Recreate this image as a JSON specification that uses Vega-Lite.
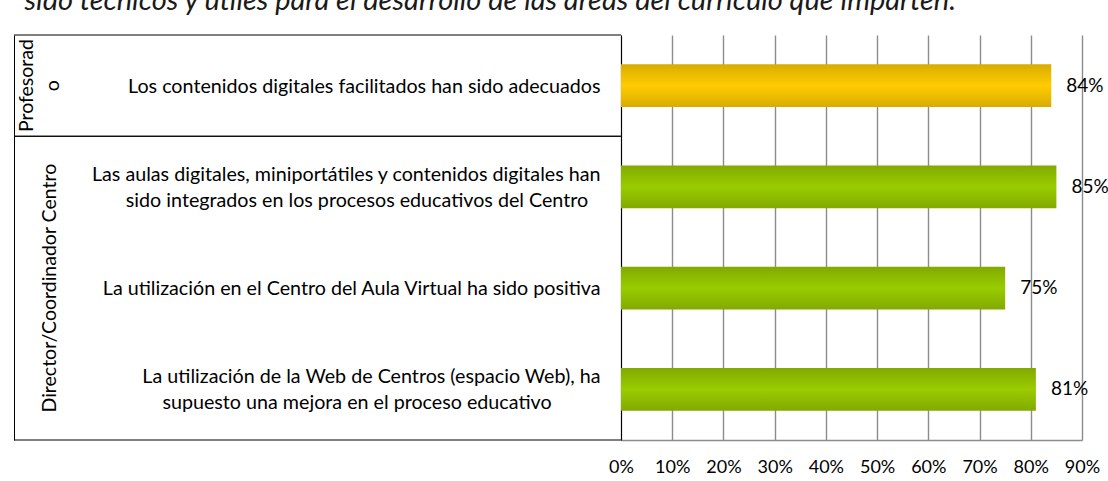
{
  "$schema": "https://vega.github.io/schema/vega-lite/v6.json",
  "padding": {"left": 13, "top": -14, "right": 5, "bottom": 4},
  "background": "white",
  "title": {
    "text": "sido técnicos y útiles para el desarrollo de las áreas del currículo que imparten.",
    "anchor": "start",
    "fontStyle": "italic",
    "fontWeight": "normal",
    "fontSize": 29,
    "color": "#1a1a1a",
    "offset": -4,
    "dx": 11,
    "baseline": "alphabetic",
    "font": "Lato"
  },
  "config": {
    "font": "Lato",
    "view": {"stroke": null},
    "concat": {"spacing": 0}
  },
  "datasets": {
    "rows": [
      {"group": "Profesorado", "item": "Los contenidos digitales facilitados han sido adecuados", "value": 0.84},
      {"group": "Director/Coordinador Centro", "item": "Las aulas digitales, miniportátiles y contenidos digitales han\nsido integrados en los procesos educativos del Centro", "value": 0.85},
      {"group": "Director/Coordinador Centro", "item": "La utilización en el Centro del Aula Virtual ha sido positiva", "value": 0.75},
      {"group": "Director/Coordinador Centro", "item": "La utilización de la Web de Centros (espacio Web), ha\nsupuesto una mejora en el proceso educativo", "value": 0.81}
    ],
    "groups": [
      {"label": "Profesorad\no", "item": "Los contenidos digitales facilitados han sido adecuados"},
      {"label": "Director/Coordinador Centro", "item": "La utilización en el Centro del Aula Virtual ha sido positiva"}
    ]
  },
  "spacing": 0,
  "bounds": "flush",
  "hconcat": [
    {
      "width": 62,
      "height": 405,
      "data": {"name": "rows"},
      "layer": [
        {
          "transform": [
            {"window": [{"op": "row_number", "as": "rn"}, {"op": "count", "as": "n"}], "groupby": ["group"], "frame": [null, null]},
            {"filter": "datum.rn == 1"}
          ],
          "mark": {"type": "rule", "color": "#000000", "strokeWidth": 1},
          "encoding": {
            "y": {
              "field": "item", "type": "nominal", "bandPosition": 0,
              "scale": {
                "domain": [
                  "Los contenidos digitales facilitados han sido adecuados",
                  "Las aulas digitales, miniportátiles y contenidos digitales han\nsido integrados en los procesos educativos del Centro",
                  "La utilización en el Centro del Aula Virtual ha sido positiva",
                  "La utilización de la Web de Centros (espacio Web), ha\nsupuesto una mejora en el proceso educativo"
                ],
                "paddingInner": 0, "paddingOuter": 0
              },
              "axis": {"orient": "left", "labels": false, "ticks": false, "title": null, "grid": false, "domainColor": "#000000", "domainWidth": 1}
            }
          }
        },
        {
          "transform": [
            {"window": [{"op": "row_number", "as": "rn"}, {"op": "count", "as": "n"}], "groupby": ["group"], "frame": [null, null]},
            {"filter": "datum.rn == datum.n"}
          ],
          "mark": {"type": "rule", "color": "#000000", "strokeWidth": 1},
          "encoding": {
            "y": {"field": "item", "type": "nominal", "bandPosition": 1}
          }
        },
        {
          "data": {"name": "groups"},
          "transform": [{"filter": "indexof(datum.label, '\\n') >= 0"}],
          "mark": {"type": "text", "angle": 270, "lineBreak": "\n", "fontSize": 19.5, "lineHeight": 26, "align": "center", "baseline": "middle", "dy": -18, "color": "#000000"},
          "encoding": {
            "y": {"field": "item", "type": "nominal"},
            "text": {"field": "label"}
          }
        },
        {
          "data": {"name": "groups"},
          "transform": [{"filter": "indexof(datum.label, '\\n') < 0"}],
          "mark": {"type": "text", "angle": 270, "fontSize": 19.5, "align": "center", "baseline": "middle", "dy": 5, "color": "#000000"},
          "encoding": {
            "y": {"field": "item", "type": "nominal"},
            "text": {"field": "label"}
          }
        }
      ]
    },
    {
      "width": 545,
      "height": 405,
      "data": {"name": "rows"},
      "layer": [
        {
          "transform": [
            {"window": [{"op": "row_number", "as": "rn"}, {"op": "count", "as": "n"}], "groupby": ["group"], "frame": [null, null]},
            {"filter": "datum.rn == 1"}
          ],
          "mark": {"type": "rule", "color": "#000000", "strokeWidth": 1},
          "encoding": {
            "y": {
              "field": "item", "type": "nominal", "bandPosition": 0,
              "scale": {
                "domain": [
                  "Los contenidos digitales facilitados han sido adecuados",
                  "Las aulas digitales, miniportátiles y contenidos digitales han\nsido integrados en los procesos educativos del Centro",
                  "La utilización en el Centro del Aula Virtual ha sido positiva",
                  "La utilización de la Web de Centros (espacio Web), ha\nsupuesto una mejora en el proceso educativo"
                ],
                "paddingInner": 0, "paddingOuter": 0
              },
              "axis": null
            }
          }
        },
        {
          "transform": [
            {"window": [{"op": "row_number", "as": "rn"}, {"op": "count", "as": "n"}], "groupby": ["group"], "frame": [null, null]},
            {"filter": "datum.rn == datum.n"}
          ],
          "mark": {"type": "rule", "color": "#000000", "strokeWidth": 1},
          "encoding": {
            "y": {"field": "item", "type": "nominal", "bandPosition": 1}
          }
        },
        {
          "transform": [{"filter": "indexof(datum.item, '\\n') < 0"}],
          "mark": {"type": "text", "fontSize": 19.7, "align": "right", "dx": 252, "dy": 1, "baseline": "middle", "color": "#000000"},
          "encoding": {
            "y": {"field": "item", "type": "nominal"},
            "text": {"field": "item"}
          }
        },
        {
          "transform": [
            {"filter": "indexof(datum.item, '\\n') >= 0"},
            {"calculate": "split(datum.item, '\\n')[0]", "as": "line1"}
          ],
          "mark": {"type": "text", "fontSize": 19.7, "align": "right", "dx": 252, "dy": -12, "baseline": "middle", "color": "#000000"},
          "encoding": {
            "y": {"field": "item", "type": "nominal"},
            "text": {"field": "line1"}
          }
        },
        {
          "transform": [
            {"filter": "indexof(datum.item, '\\n') >= 0"},
            {"calculate": "split(datum.item, '\\n')[1]", "as": "line2"}
          ],
          "mark": {"type": "text", "fontSize": 19.7, "align": "center", "dx": 8.5, "dy": 14, "baseline": "middle", "color": "#000000"},
          "encoding": {
            "y": {"field": "item", "type": "nominal"},
            "text": {"field": "line2"}
          }
        }
      ]
    },
    {
      "width": 461,
      "height": 405,
      "data": {"name": "rows"},
      "encoding": {
        "y": {
          "field": "item", "type": "nominal",
          "scale": {
            "domain": [
              "Los contenidos digitales facilitados han sido adecuados",
              "Las aulas digitales, miniportátiles y contenidos digitales han\nsido integrados en los procesos educativos del Centro",
              "La utilización en el Centro del Aula Virtual ha sido positiva",
              "La utilización de la Web de Centros (espacio Web), ha\nsupuesto una mejora en el proceso educativo"
            ],
            "paddingInner": 0.58, "paddingOuter": 0.29
          },
          "axis": {"orient": "left", "labels": false, "ticks": false, "title": null, "grid": false, "domainColor": "#000000", "domainWidth": 1}
        },
        "x": {
          "field": "value", "type": "quantitative",
          "scale": {"domain": [0, 0.9], "nice": false},
          "axis": {
            "values": [0, 0.1, 0.2, 0.3, 0.4, 0.5, 0.6, 0.7, 0.8, 0.9],
            "format": ".0%",
            "grid": true, "gridColor": "#8c8c8c", "gridWidth": 1.4,
            "ticks": false,
            "domainColor": "#8c8c8c", "domainWidth": 1.4,
            "labelFontSize": 18, "labelColor": "#000000", "labelPadding": 18,
            "labelFlush": false, "title": null
          }
        }
      },
      "layer": [
        {
          "mark": {"type": "bar"},
          "encoding": {
            "fill": {
              "condition": {
                "test": "datum.group === 'Profesorado'",
                "value": {"gradient": "linear", "x1": 0, "y1": 0, "x2": 0, "y2": 1,
                  "stops": [{"offset": 0, "color": "#D8AC00"}, {"offset": 0.5, "color": "#FFCC00"}, {"offset": 1, "color": "#D8AC00"}]}
              },
              "value": {"gradient": "linear", "x1": 0, "y1": 0, "x2": 0, "y2": 1,
                "stops": [{"offset": 0, "color": "#82AA00"}, {"offset": 0.5, "color": "#99CC00"}, {"offset": 1, "color": "#82AA00"}]}
            }
          }
        },
        {
          "mark": {"type": "text", "align": "left", "baseline": "middle", "dx": 15, "fontSize": 19, "color": "#000000"},
          "encoding": {
            "text": {"field": "value", "type": "quantitative", "format": ".0%"}
          }
        }
      ]
    }
  ]
}
